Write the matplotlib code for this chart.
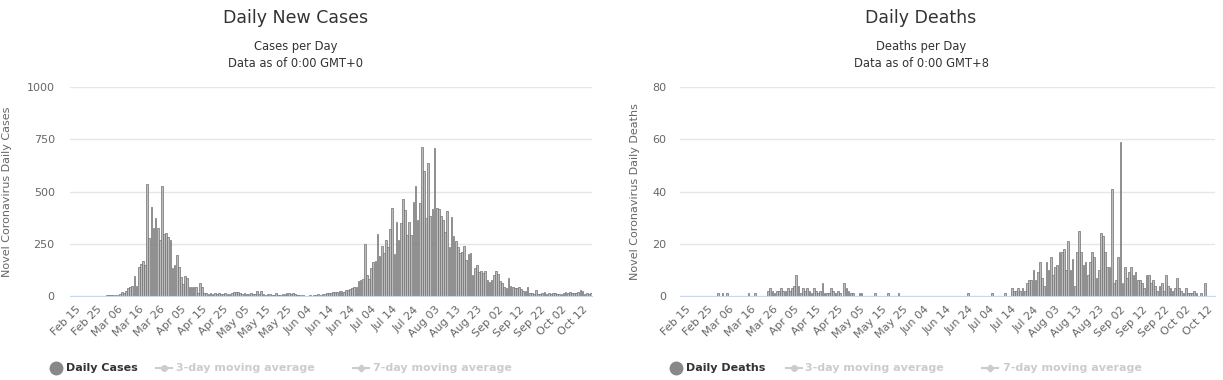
import numpy as np
import pandas as pd
import matplotlib.pyplot as plt
from matplotlib.lines import Line2D

# daily values, Feb 15 onwards
dates = pd.date_range("2020-02-15", periods=245)

cases = (
    [0, 0, 0, 0, 0, 0, 0, 0, 0, 0, 1, 0, 2, 1, 2, 3]
    + [5, 3, 4, 6, 5, 8, 20, 15, 25, 37, 41, 48, 96, 48, 137, 151, 167, 150]
    + [534, 276, 424, 323, 371, 323, 268, 526]
    + [295, 303, 284, 268, 132, 150, 196, 140, 92, 57, 96, 84, 45, 41, 45, 41, 16, 61, 45, 16]
    + [12, 10, 13, 8, 12, 10, 14, 9, 11, 13, 8, 10, 16, 19, 20, 18, 12, 10, 14, 11, 9, 12, 10, 8, 24, 10]
    + [24, 8, 6, 10, 9, 5, 7, 12, 6, 4, 10, 8, 16, 12, 9, 13, 8, 6, 5, 4, 3, 2, 0, 3, 2, 4]
    + [5, 8, 6, 10, 10, 12, 14, 12, 18, 19, 20, 24, 22, 20, 28, 30, 33, 38, 42, 45, 73, 76, 80]
    + [247]
    + [100, 80, 132, 161, 167, 295, 193, 239, 204, 268, 236, 319, 419, 200, 355, 268, 350, 462,
       411, 291, 355, 291, 448, 526, 363, 446, 714, 597, 374, 637, 382, 414, 710, 419, 414, 382,
       363, 307, 408, 233, 379, 287, 264, 236, 207, 212, 239, 172, 200, 204, 100, 132, 148, 116,
       119, 108, 119, 76, 68, 76, 100, 119, 104]
    + [72, 61, 45, 40, 88, 48, 45, 40, 40, 45, 35, 24, 24, 45, 13, 16, 11, 29, 8, 11, 16, 19,
       11, 13, 11, 13, 16, 8, 10, 11, 13, 19, 16, 18, 13, 13, 16, 18, 29, 24, 11, 13, 10, 12]
)

deaths = (
    [0] * 15
    + [1, 0, 1, 0, 1, 0, 0, 0, 0, 0, 0, 0, 0, 0, 1, 0, 0, 1, 0, 0, 0, 0, 0]
    + [2, 3, 2, 1, 2, 2, 3, 2, 2, 3, 2, 3, 4, 8, 4, 1, 3, 2, 3, 2, 1, 3, 2, 1, 2, 5, 1, 1, 1, 3,
       2, 1, 2, 1, 0, 5, 3, 2, 1, 1, 0, 0, 1, 1, 0, 0, 0, 0, 0, 1, 0, 0, 0, 0, 0, 1, 0, 0, 0, 0, 1]
    + [0] * 31
    + [1, 0, 0, 0, 0, 0, 0, 0, 0, 0, 0, 1, 0, 0, 0, 0, 0, 1, 0, 0]
    + [3, 2, 2, 3, 2, 3, 2, 5, 6]
    + [6, 10, 6, 9, 13, 7, 4, 13, 10, 15, 8, 11, 12, 17, 17, 18, 10, 21, 10, 14, 4, 17, 25, 17,
       12, 13, 8, 13, 17, 15, 7, 10, 24, 23, 17, 11, 11, 41, 5, 6, 15, 59, 5, 11, 7, 9, 11, 8, 9,
       6, 6, 5, 3, 8, 8, 5, 6, 4, 2, 4, 5, 2, 8, 4, 3, 2, 3, 7, 3, 2, 1, 3, 1, 1, 1, 2, 1, 0, 1,
       0, 5]
    + [0, 0, 0, 0]
)

tick_pos = list(range(0, 245, 10))
tick_labels = [dates[p].strftime("%b %d") for p in tick_pos]

W, H = 1223, 380
fig = plt.figure(figsize=(W / 100, H / 100), dpi=100)


def panel(rect, values, ymax, step, ylabel, label_x, ypad):
    ax = fig.add_axes(rect)
    ax.bar(range(len(values)), values, width=0.8, color="#bdbdbd",
           edgecolor="#707070", linewidth=0.5)
    ax.set_xlim(-2.5, len(values) - 0.5)
    ax.set_ylim(0, ymax)
    ax.set_yticks(np.arange(0, ymax + 1, step))
    ax.grid(axis="y", color="#e6e6e6", linewidth=1)
    ax.set_axisbelow(True)
    for s in ["top", "right", "left"]:
        ax.spines[s].set_visible(False)
    ax.spines["bottom"].set_color("#ccd6eb")
    ax.set_xticks(tick_pos)
    ax.set_xticklabels(tick_labels, rotation=45, ha="right", va="top",
                       rotation_mode="anchor")
    ax.tick_params(axis="both", length=0, labelsize=8, colors="#666666")
    ax.tick_params(axis="y", pad=ypad)
    ax.tick_params(axis="x", pad=6)
    ax.set_ylabel(ylabel, fontsize=8, color="#666666")
    ax.yaxis.set_label_coords(label_x, 0.5)
    return ax


ax1 = panel([70 / W, 84 / H, 522 / W, 209 / H], cases, 1000, 250,
            "Novel Coronavirus Daily Cases", (12 - 70) / 522, 11)
ax2 = panel([680 / W, 84 / H, 535 / W, 209 / H], deaths, 80, 20,
            "Novel Coronavirus Daily Deaths", (640 - 680) / 535, 10)

# titles
for cx, title, sub in [(296, "Daily New Cases", "Cases per Day\nData as of 0:00 GMT+0"),
                       (921, "Daily Deaths", "Deaths per Day\nData as of 0:00 GMT+8")]:
    fig.text(cx / W, 1 - 18 / H, title, ha="center", va="center", fontsize=12.5, color="#333333")
    fig.text(cx / W, 1 - 55 / H, sub, ha="center", va="center", fontsize=8.3,
             color="#333333", linespacing=1.35)

# legends, drawn item by item like the reference
ly = 1 - 368 / H
for name, circ, sym3, txt3, sym7, txt7 in [
    ("Daily Cases", 56, 156, 176, 353, 373),
    ("Daily Deaths", 676, 786, 805, 982, 1003),
]:
    fig.add_artist(Line2D([circ / W], [ly], marker="o", markersize=9, color="#888888",
                          transform=fig.transFigure))
    fig.text((circ + 10) / W, ly, name, va="center", ha="left", fontsize=8,
             weight="bold", color="#333333")
    for sx, tx, label, mk, ms in [(sym3, txt3, "3-day moving average", "o", 4),
                                  (sym7, txt7, "7-day moving average", "D", 3.5)]:
        fig.add_artist(Line2D([sx / W, (sx + 16) / W], [ly, ly], color="#cccccc",
                              linewidth=1.5, transform=fig.transFigure))
        fig.add_artist(Line2D([(sx + 8) / W], [ly], marker=mk, markersize=ms,
                              color="#cccccc", transform=fig.transFigure))
        fig.text(tx / W, ly, label, va="center", ha="left", fontsize=8,
                 weight="bold", color="#cccccc")

fig.savefig("out.png", dpi=100)
